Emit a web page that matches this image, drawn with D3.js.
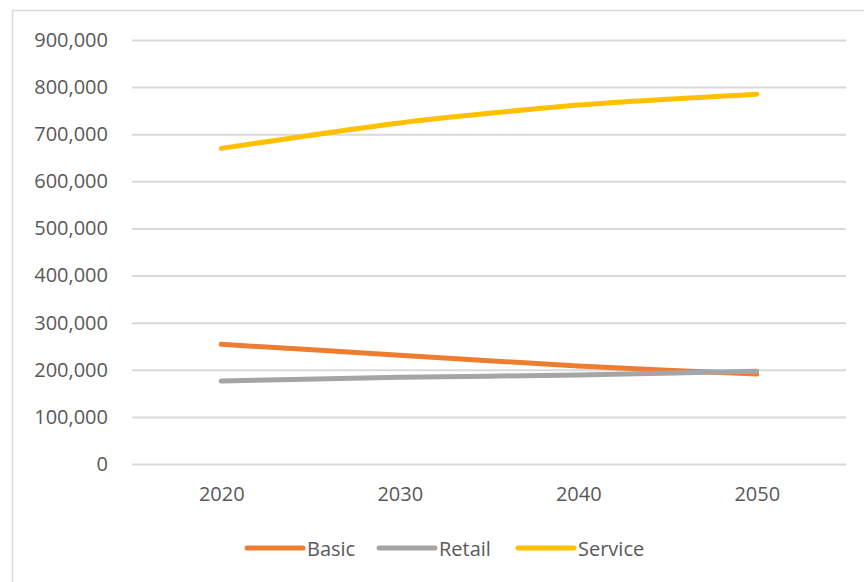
<!DOCTYPE html>
<html>
<head>
<meta charset="utf-8">
<script src="https://cdn.jsdelivr.net/npm/d3@7"></script>
<style>
html,body{margin:0;padding:0;background:#fff;}
svg{display:block;}
text{font-family:"Open Sans","Noto Sans",sans-serif;fill:#595959;}
</style>
</head>
<body>
<svg id="chart" width="864" height="582"></svg>
<script>
const years = ["2020", "2030", "2040", "2050"];
const basic = [254000, 231000, 208000, 191000];
const retail = [176000, 184000, 189000, 197000];
const service = [670000, 724000, 762000, 785000];
const seriesNames = ["Basic", "Retail", "Service"];
const seriesColors = ["#ED7D31", "#A5A5A5", "#FFC000"];
const yTicks = [0, 100000, 200000, 300000, 400000, 500000, 600000, 700000, 800000, 900000];

const series = [basic, retail, service].map((vals, i) => ({
  name: seriesNames[i], color: seriesColors[i], values: vals
}));

const svg = d3.select("#chart");
const W = 864, H = 582;
const plot = {left: 132, right: 846, top: 40, bottom: 464};

// outer chart border
svg.append("rect")
  .attr("x", 12.5).attr("y", 10.5)
  .attr("width", W).attr("height", H)
  .attr("fill", "#fff").attr("stroke", "#D9D9D9").attr("stroke-width", 1.5);

const x = d3.scalePoint().domain(years).range([plot.left, plot.right]).padding(0.5);
const y = d3.scaleLinear().domain([0, 900000]).range([plot.bottom, plot.top]);

// gridlines + y labels
const yAxis = d3.axisLeft(y).tickValues(yTicks)
  .tickFormat(d3.format(","))
  .tickSize(-(plot.right - plot.left)).tickPadding(24);
const gy = svg.append("g").attr("transform", `translate(${plot.left},0)`).call(yAxis);
gy.select(".domain").remove();
gy.selectAll(".tick line").attr("stroke", "#D9D9D9").attr("stroke-width", 2);
gy.selectAll(".tick text").attr("font-size", 20).attr("fill", "#595959")
  .attr("font-family", "'Open Sans', sans-serif");

// x labels
const xAxis = d3.axisBottom(x).tickSize(0).tickPadding(23);
const gx = svg.append("g").attr("transform", `translate(0,${plot.bottom})`).call(xAxis);
gx.select(".domain").remove();
gx.selectAll(".tick text").attr("font-size", 20).attr("fill", "#595959")
  .attr("font-family", "'Open Sans', sans-serif");

// lines (Excel-style smoothing)
const line = d3.line()
  .x((d, i) => x(years[i]))
  .y(d => y(d))
  .curve(d3.curveCardinal.tension(0.3));

svg.append("g").selectAll("path").data(series).join("path")
  .attr("d", d => line(d.values))
  .attr("fill", "none")
  .attr("stroke", d => d.color)
  .attr("stroke-width", 5)
  .attr("stroke-linecap", "round")
  .attr("stroke-linejoin", "round");

// legend
const legendX = [247, 379, 518];
const lg = svg.append("g");
series.forEach((s, i) => {
  const g = lg.append("g").attr("transform", `translate(${legendX[i]},548)`);
  g.append("line").attr("x1", 0).attr("x2", 56).attr("y1", 0).attr("y2", 0)
    .attr("stroke", s.color).attr("stroke-width", 5).attr("stroke-linecap", "round");
  g.append("text").attr("x", 60).attr("y", 7.5).attr("font-size", 20)
    .text(s.name);
});
</script>
</body>
</html>
